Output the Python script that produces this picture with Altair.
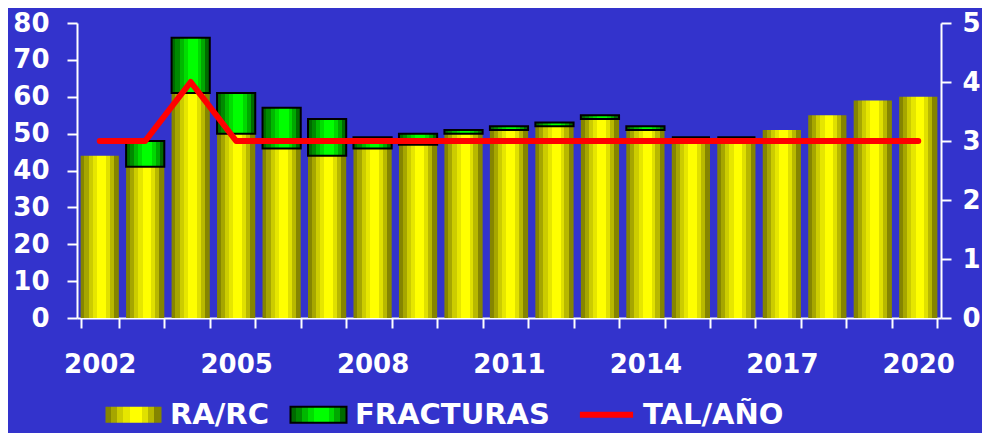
import altair as alt
import pandas as pd

years = list(range(2002, 2021))
ra_rc = [44, 41, 61, 50, 46, 44, 46, 47, 50, 51, 52, 54, 51, 49, 49, 51, 55, 59, 60]
fracturas = [None, 7, 15, 11, 11, 10, 3, 3, 1, 1, 1, 1, 1, 0, 0, None, None, None, None]
tal_ano = [3, 3, 4, 3, 3, 3, 3, 3, 3, 3, 3, 3, 3, 3, 3, 3, 3, 3, 3]
left_ticks = [0, 10, 20, 30, 40, 50, 60, 70, 80]
right_ticks = [0, 1, 2, 3, 4, 5]
series = ["RA/RC", "FRACTURAS", "TAL/AÑO"]

df = pd.DataFrame({"year": years, "ra": ra_rc, "frac": fracturas, "tal": tal_ano})

BG = "#3333CC"
FONT = "DejaVu Sans"

yellow_cols = ["#858500", "#A6A600", "#CCCC00", "#E6E600", "#FFFF00", "#E0E000", "#B8B800", "#858500"]
yellow_offs = [0, 0.1, 0.21, 0.32, 0.43, 0.66, 0.76, 0.87, 1]
green_cols = ["#006A00", "#008A00", "#00B800", "#00DD00", "#00FF00", "#00D800", "#00A800", "#006A00"]
green_offs = [0, 0.1, 0.21, 0.32, 0.42, 0.68, 0.78, 0.88, 1]


def stepped_stops(colors, offsets):
    stops = []
    for i, c in enumerate(colors):
        stops.append((c, offsets[i]))
        stops.append((c, offsets[i + 1]))
    return stops


def grad_dict(colors, offsets):
    return {
        "gradient": "linear", "x1": 0, "x2": 1, "y1": 0, "y2": 0,
        "stops": [{"color": c, "offset": o} for c, o in stepped_stops(colors, offsets)],
    }


def grad_expr(colors, offsets):
    stops = ",".join("{offset:%s,color:'%s'}" % (o, c) for c, o in stepped_stops(colors, offsets))
    return "{gradient:'linear',x1:0,x2:1,y1:0,y2:0,stops:[%s]}" % stops


yellow_grad = grad_dict(yellow_cols, yellow_offs)
green_grad = grad_dict(green_cols, green_offs)

x_enc = alt.X(
    "year:O",
    title=None,
    scale=alt.Scale(paddingInner=0.16, paddingOuter=0.08),
    axis=alt.Axis(
        labelExpr="(toNumber(datum.value) - 2002) % 3 === 0 ? datum.label : ''",
        labelAngle=0,
        tickBand="extent",
        tickSize=10,
        labelPadding=23,
        labelFontSize=26,
        labelFontWeight="bold",
        labelColor="white",
        labelFont=FONT,
        domainColor="white",
        domainWidth=2,
        tickColor="white",
        tickWidth=2,
    ),
)

left_axis = alt.Axis(
    values=left_ticks,
    tickSize=10,
    labelPadding=18,
    labelFontSize=26,
    labelFontWeight="bold",
    labelColor="white",
    labelFont=FONT,
    domainColor="white",
    domainWidth=2,
    tickColor="white",
    tickWidth=2,
    grid=False,
    title=None,
)

right_axis = alt.Axis(
    orient="right",
    values=right_ticks,
    tickSize=10,
    labelPadding=11,
    labelFontSize=26,
    labelFontWeight="bold",
    labelColor="white",
    labelFont=FONT,
    domainColor="white",
    domainWidth=2,
    tickColor="white",
    tickWidth=2,
    grid=False,
    title=None,
)

yscale = alt.Scale(domain=[0, 80], nice=False)

yellow = alt.Chart(df).mark_bar(fill=yellow_grad, strokeWidth=0).encode(
    x=x_enc,
    y=alt.Y("ra:Q", scale=yscale, axis=left_axis),
)

green = (
    alt.Chart(df)
    .transform_filter("isValid(datum.frac)")
    .transform_calculate(top="datum.ra + datum.frac")
    .mark_bar(fill=green_grad, stroke="black", strokeWidth=2)
    .encode(
        x=x_enc,
        y=alt.Y("top:Q", scale=yscale, axis=left_axis),
        y2="ra:Q",
    )
)

bars = alt.layer(yellow, green)

rect_path = "M-2,-0.57L2,-0.57L2,0.57L-2,0.57Z"
line_path = "M-1.9,0L1.9,0"

fill_expr = "datum.value === 'RA/RC' ? %s : (datum.value === 'FRACTURAS' ? %s : 'transparent')" % (
    grad_expr(yellow_cols, yellow_offs), grad_expr(green_cols, green_offs))
shape_expr = "datum.value === 'TAL/AÑO' ? '%s' : '%s'" % (line_path, rect_path)
sw_expr = "datum.value === 'TAL/AÑO' ? 6 : 2"

legend = alt.Legend(
    title=None,
    orient="none",
    direction="horizontal",
    legendX=28,
    legendY=377,
    padding=0,
    symbolSize=784,
    symbolOffset=14,
    symbolType=alt.ExprRef(expr=shape_expr),
    symbolFillColor=alt.ExprRef(expr=fill_expr),
    symbolStrokeWidth=alt.ExprRef(expr=sw_expr),
    symbolOpacity=1,
    labelOffset=22,
    columnPadding=17,
    labelFont=FONT,
    labelFontSize=29,
    labelFontWeight="bold",
    labelColor="white",
    labelLimit=0,
)

line = (
    alt.Chart(df)
    .transform_calculate(serie="'TAL/AÑO'")
    .mark_line(strokeCap="round", strokeJoin="round")
    .encode(
        x=x_enc,
        y=alt.Y("tal:Q", scale=alt.Scale(domain=[0, 5], nice=False), axis=right_axis),
        color=alt.Color(
            "serie:N",
            scale=alt.Scale(domain=series, range=["transparent", "black", "#FF0000"]),
            legend=legend,
        ),
        strokeWidth=alt.value(6),
    )
)

chart = (
    alt.layer(bars, line)
    .resolve_scale(y="independent")
    .properties(
        width=864,
        height=295,
        background=BG,
        autosize=alt.AutoSizeParams(type="none"),
        padding={"left": 69, "top": 15, "right": 41, "bottom": 115},
    )
    .configure_view(stroke=None)
)

chart.save("out.html", embed_options={"renderer": "svg", "actions": False})
